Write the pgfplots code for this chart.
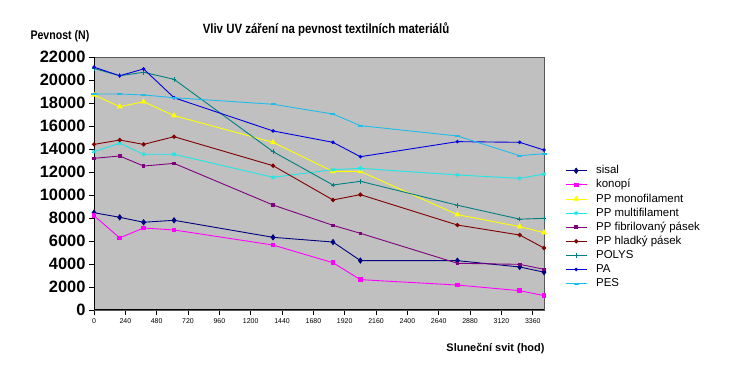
\documentclass[border=0pt]{standalone}
\usepackage{fontspec}
\setmainfont{Liberation Sans}
\newfontfamily\narrowfont[FakeStretch=0.85]{Liberation Sans}
\usepackage{pgfplots}
\pgfplotsset{compat=1.18}
\definecolor{plotgray}{HTML}{C0C0C0}
\definecolor{cSisal}{HTML}{000080}
\definecolor{cKonopi}{HTML}{FF00FF}
\definecolor{cMono}{HTML}{FFFF00}
\definecolor{cMulti}{HTML}{20E6E6}
\definecolor{cFibril}{HTML}{800080}
\definecolor{cHladky}{HTML}{800000}
\definecolor{cPolys}{HTML}{008080}
\definecolor{cPA}{HTML}{0000E0}
\definecolor{cPES}{HTML}{20BCEC}
\begin{document}
\begin{tikzpicture}
\path[use as bounding box] (0,0) rectangle (745bp,391bp);
\begin{axis}[
  at={(94bp,81bp)}, anchor=south west,
  scale only axis, width=450bp, height=253bp,
  xmin=0, xmax=3446, ymin=0, ymax=22000,
  xtick={0,240,...,3360}, ytick={0,2000,...,22000},
  scaled ticks=false,
  /pgf/number format/1000 sep={},
  /pgf/number format/assume math mode=true,
  tick pos=left, tick align=outside, major tick length=5bp,
  tick style={black, line width=0.8bp},
  axis background/.style={fill=plotgray},
  axis line style={draw=gray!70!black, line width=0.8bp},
  yticklabel style={font=\bfseries\fontsize{16.5}{17}\selectfont},
  xticklabel style={font=\fontsize{7}{8}\selectfont},
  clip=false,
  every axis plot/.append style={line width=0.9bp, mark size=2bp},
  legend style={at={(rel axis cs:1.0467,0.579)}, anchor=north west, draw=none, fill=none,
    inner sep=0pt, font=\fontsize{11.5}{13}\selectfont,
    nodes={inner sep=1bp, text height=9.1bp, text depth=3bp},
    /tikz/every odd column/.append style={column sep=8bp}},
  legend cell align=left,
  legend image code/.code={\draw[mark repeat=2,mark phase=2,#1] plot coordinates {(0bp,0bp) (10.5bp,0bp) (21bp,0bp)};},
]
\addplot[color=cSisal, mark=diamond*, mark size=2.5bp] coordinates {
(0,8460) (197,8060) (380,7630) (613,7800) (1371,6320) (1830,5910) (2040,4300) (2783,4290) (3260,3740) (3446,3290)};
\addlegendentry{sisal}
\addplot[color=cKonopi, mark=square*, mark size=1.8bp] coordinates {
(0,8200) (197,6270) (380,7130) (613,6960) (1371,5650) (1830,4110) (2040,2640) (2783,2170) (3260,1680) (3446,1250)};
\addlegendentry{konopí}
\addplot[color=cMono, mark=triangle*, mark size=2.6bp] coordinates {
(0,18700) (197,17680) (380,18110) (613,16900) (1371,14580) (1830,12050) (2040,12050) (2783,8290) (3260,7250) (3446,6730)};
\addlegendentry{PP monofilament}
\addplot[color=cMulti, mark=asterisk, mark size=2.3bp] coordinates {
(0,13770) (197,14500) (380,13540) (613,13540) (1371,11540) (1830,12200) (2040,12320) (2783,11740) (3260,11450) (3446,11820)};
\addlegendentry{PP multifilament}
\addplot[color=cFibril, mark=square*, mark size=1.3bp] coordinates {
(0,13190) (197,13390) (380,12520) (613,12750) (1371,9130) (1830,7360) (2040,6670) (2783,4060) (3260,3970) (3446,3540)};
\addlegendentry{PP fibrilovaný pásek}
\addplot[color=cHladky, mark=*, mark size=1.7bp] coordinates {
(0,14400) (197,14780) (380,14400) (613,15070) (1371,12550) (1830,9570) (2040,10030) (2783,7390) (3260,6520) (3446,5390)};
\addlegendentry{PP hladký pásek}
\addplot[color=cPolys, mark=+, mark size=2.3bp] coordinates {
(0,21000) (197,20370) (380,20670) (613,20060) (1371,13770) (1830,10870) (2040,11190) (2783,9110) (3260,7900) (3446,7970)};
\addlegendentry{POLYS}
\addplot[color=cPA, mark=*, mark size=1.3bp] coordinates {
(0,21120) (197,20370) (380,20960) (613,18460) (1371,15570) (1830,14580) (2040,13330) (2783,14640) (3260,14580) (3446,13910)};
\addlegendentry{PA}
\addplot[color=cPES, mark=-, mark size=2.5bp, mark options={line width=2bp}] coordinates {
(0,18780) (197,18780) (380,18700) (613,18460) (1371,17890) (1830,17040) (2040,16030) (2783,15130) (3260,13420) (3446,13590)};
\addlegendentry{PES}
\draw[black, line width=1bp] (rel axis cs:0,1) -- (rel axis cs:0,0) -- (rel axis cs:1,0);
\end{axis}
\node[font=\narrowfont\bfseries\fontsize{13.5}{15}\selectfont] at (326bp,361bp) {Vliv UV záření na pevnost textilních materiálů};
\node[anchor=west, font=\narrowfont\bfseries\fontsize{12.5}{14}\selectfont] at (27bp,355bp) {Pevnost (N)};
\node[anchor=east, font=\bfseries\fontsize{11}{13}\selectfont] at (548bp,42bp) {Sluneční svit (hod)};
\end{tikzpicture}
\end{document}
